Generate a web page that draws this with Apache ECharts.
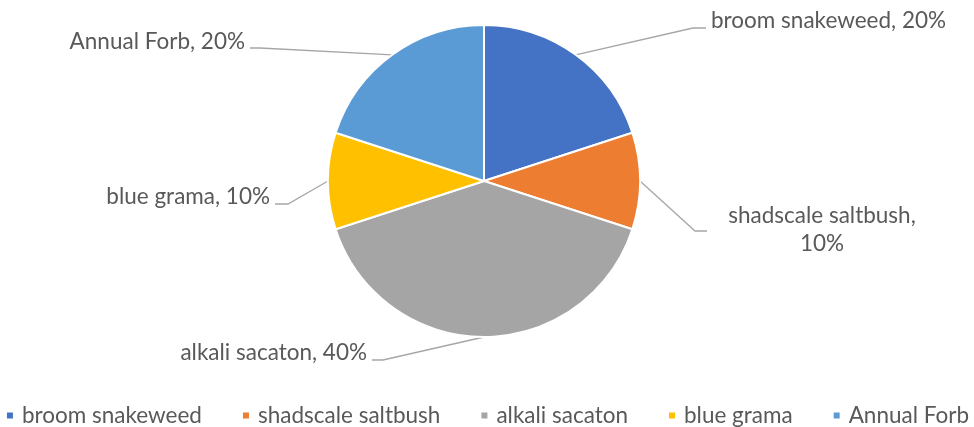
<!DOCTYPE html>
<html>
<head>
<meta charset="utf-8">
<script src="https://cdn.jsdelivr.net/npm/echarts@6/dist/echarts.min.js"></script>
<style>
  html, body { margin: 0; padding: 0; background: #fff; }
  #chart { width: 974px; height: 427px; }
</style>
</head>
<body>
<div id="chart"></div>
<script>
// Species composition
const categories = ['broom snakeweed', 'shadscale saltbush', 'alkali sacaton', 'blue grama', 'Annual Forb'];
const shares = [20, 10, 40, 10, 20];
const colors = ['#4472C4', '#ED7D31', '#A5A5A5', '#FFC000', '#5B9BD5'];

// Where each label sits and how its leader line bends (pixels)
const labelPlacement = [
  { x: 711, y: 21, align: 'left', bend: [693, 28], end: [706, 28], wrap: false },
  { x: 822, y: 230, align: 'center', bend: [695, 231], end: [707, 231], wrap: true },
  { x: 367, y: 353, align: 'right', bend: [383, 360], end: [372, 360], wrap: false },
  { x: 270, y: 197, align: 'right', bend: [288, 204], end: [275, 204], wrap: false },
  { x: 245, y: 42, align: 'right', bend: [260, 48], end: [250, 48], wrap: false }
];

const FONT = 'Lato';
const TEXT = '#595959';

const chart = echarts.init(document.getElementById('chart'), null, { renderer: 'canvas' });

chart.setOption({
  animation: false,
  color: colors,
  legend: {
    bottom: 0,
    left: 'center',
    width: 974,
    padding: 0,
    icon: 'rect',
    itemWidth: 8,
    itemHeight: 8,
    itemGap: 39,
    textStyle: { fontFamily: FONT, fontSize: 22.5, color: TEXT, padding: [0, 0, 0, 3] },
    data: categories
  },
  series: [{
    type: 'pie',
    center: [484, 181],
    radius: 156,
    startAngle: 90,
    clockwise: true,
    avoidLabelOverlap: false,
    itemStyle: { borderColor: '#fff', borderWidth: 2 },
    label: {
      show: true,
      position: 'outside',
      fontFamily: FONT,
      fontSize: 22.5,
      color: TEXT,
      lineHeight: 28,
      formatter: p => p.name + ',' + (labelPlacement[p.dataIndex].wrap ? '\n' : ' ') + p.percent + '%'
    },
    labelLine: {
      show: true,
      length: 20,
      length2: 10,
      lineStyle: { color: '#A6A6A6', width: 1.3 }
    },
    labelLayout: function (params) {
      const L = labelPlacement[params.dataIndex];
      const start = params.labelLinePoints ? params.labelLinePoints[0] : L.bend;
      return {
        x: L.x,
        y: L.y,
        align: L.align,
        verticalAlign: 'middle',
        labelLinePoints: [start, L.bend, L.end]
      };
    },
    emphasis: { disabled: true },
    data: categories.map((name, i) => ({ name: name, value: shares[i] }))
  }]
});
</script>
</body>
</html>
